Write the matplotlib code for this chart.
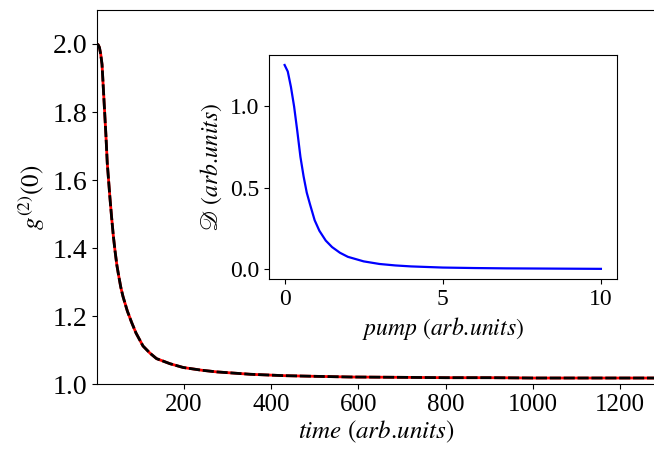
import matplotlib
matplotlib.use('Agg')
import matplotlib.pyplot as plt

# --- data ---
time = [0, 3, 6, 9, 12, 15, 18, 21, 24, 27, 30, 34, 38, 42, 46, 50, 55, 60, 70, 80,
        90, 106, 122, 137, 168, 198, 240, 275, 352, 428, 500, 582, 700, 800, 900,
        1000, 1100, 1200, 1280]
g2 = [2.0, 1.998, 1.99, 1.97, 1.94, 1.87, 1.80, 1.73, 1.65, 1.60, 1.55, 1.49, 1.435,
      1.39, 1.35, 1.32, 1.285, 1.258, 1.215, 1.181, 1.15, 1.112, 1.091, 1.075, 1.060,
      1.049, 1.041, 1.036, 1.029, 1.025, 1.023, 1.021, 1.020, 1.019, 1.019,
      1.018, 1.018, 1.018, 1.018]

pump = [0, 0.1, 0.2, 0.3, 0.4, 0.5, 0.6, 0.7, 0.8, 0.95, 1.1, 1.3, 1.5, 1.75, 2.0,
        2.5, 3.0, 3.5, 4.0, 5.0, 6.0, 7.0, 8.0, 9.0, 10.0]
dissip = [1.255, 1.215, 1.12, 1.0, 0.85, 0.69, 0.57, 0.47, 0.40, 0.30, 0.235, 0.175,
          0.135, 0.10, 0.075, 0.047, 0.031, 0.022, 0.016, 0.009, 0.006, 0.004,
          0.003, 0.002, 0.001]

plt.rcParams['font.family'] = ['Liberation Serif', 'DejaVu Serif']
plt.rcParams['mathtext.fontset'] = 'stix'
plt.rcParams['font.size'] = 16

fig = plt.figure(figsize=(6.54, 4.53), dpi=100)

# main axes (right spine falls just outside the picture)
ax = fig.add_axes([0.148, 0.152, 0.855, 0.826])
ax.plot(time, g2, color='red', lw=2)
ax.plot(time, g2, color='black', lw=2, ls='--', dashes=(4, 1))
ax.set_xlim(0, 1282)
ax.set_ylim(1.0, 2.1)
ax.set_xticks([200, 400, 600, 800, 1000, 1200])
ax.set_yticks([1.0, 1.2, 1.4, 1.6, 1.8, 2.0])
ax.tick_params(axis='x', labelsize=18)
ax.tick_params(axis='y', labelsize=20)
ax.set_xlabel(r'$time\ (arb.\!units)$', fontsize=18, labelpad=2)
ax.set_ylabel(r'$g^{(2)}(0)$', fontsize=18)

# inset
ins = fig.add_axes([0.411, 0.384, 0.532, 0.495])
ins.plot(pump, dissip, color='blue', lw=1.6)
ins.set_xticks([0, 5, 10])
ins.set_yticks([0.0, 0.5, 1.0])
ins.tick_params(labelsize=17)
ins.set_xlabel(r'$pump\ (arb.\!units)$', fontsize=17)
ins.set_ylabel(r'$\mathscr{D}\ (arb.\!units)$', fontsize=17)

fig.savefig('out.png', dpi=100)
